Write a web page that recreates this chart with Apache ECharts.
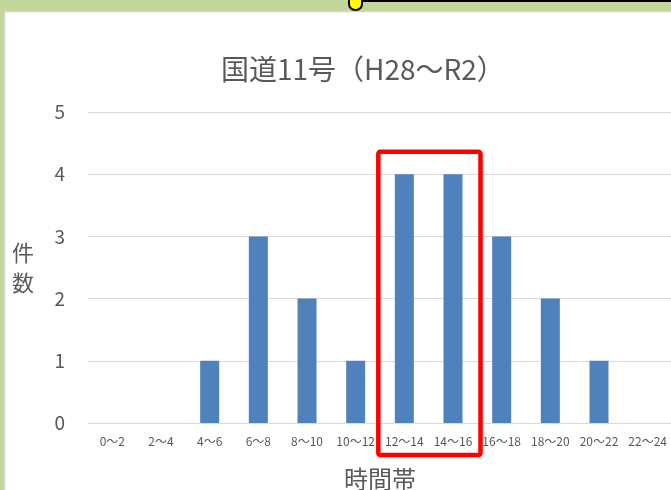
<!DOCTYPE html>
<html>
<head>
<meta charset="utf-8">
<script src="https://cdn.jsdelivr.net/npm/echarts@6/dist/echarts.min.js"></script>
<style>
  html, body { margin: 0; padding: 0; background: #c4d79b; }
  #chart { width: 671px; height: 490px; }
</style>
</head>
<body>
<div id="chart"></div>
<script>
// 時間帯別の件数
var categories = ['0〜2', '2〜4', '4〜6', '6〜8', '8〜10', '10〜12', '12〜14', '14〜16', '16〜18', '18〜20', '20〜22', '22〜24'];
var counts = [0, 0, 1, 3, 2, 1, 4, 4, 3, 2, 1, 0];
var yTicks = [0, 1, 2, 3, 4, 5];

var textColor = '#595959';
var cjk = '"Noto Sans CJK JP", "Noto Sans", sans-serif';

var myChart = echarts.init(document.getElementById('chart'));
var option = {
  animation: false,
  textStyle: { fontFamily: cjk },
  title: {
    text: '国道11号（H28〜R2）',
    left: 216,
    top: 50,
    textStyle: { fontSize: 28, fontWeight: 'normal', color: textColor, fontFamily: cjk }
  },
  grid: { left: 88, top: 112, width: 584, height: 311, outerBoundsMode: 'none' },
  xAxis: {
    type: 'category',
    data: categories,
    name: '時間帯',
    nameLocation: 'middle',
    nameGap: 44,
    nameTextStyle: { fontSize: 24, color: textColor },
    axisLine: { lineStyle: { color: '#d9d9d9' } },
    axisTick: { show: false },
    axisLabel: { interval: 0, fontSize: 12, color: textColor, margin: 12 }
  },
  yAxis: {
    type: 'value',
    min: yTicks[0],
    max: yTicks[yTicks.length - 1],
    interval: 1,
    name: '件\n数',
    nameLocation: 'middle',
    nameRotate: 0,
    nameGap: 54,
    nameTextStyle: { fontSize: 22, color: textColor, lineHeight: 30, padding: [10, 0, 0, 0] },
    axisLine: { show: false },
    axisTick: { show: false },
    axisLabel: { fontSize: 19, color: textColor, margin: 23 },
    splitLine: { lineStyle: { color: '#d9d9d9' } }
  },
  series: [
    {
      type: 'bar',
      data: counts,
      barWidth: 19,
      itemStyle: { color: '#4f81bd' }
    }
  ],
  graphic: [
    // 背景の枠
    {
      type: 'rect', z: -10, silent: true,
      shape: { x: 0, y: 0, width: 671, height: 490 },
      style: { fill: '#c4d79b' }
    },
    {
      type: 'rect', z: -9, silent: true,
      shape: { x: 4.5, y: 11.5, width: 680, height: 490 },
      style: { fill: '#ffffff', stroke: '#d4d4d4', lineWidth: 1.5 }
    },
    {
      type: 'rect', z: -8, silent: true,
      shape: { x: 362, y: -2, width: 320, height: 4 },
      style: { fill: '#000000' }
    },
    {
      type: 'rect', z: -7, silent: true,
      shape: { x: 349, y: -8, width: 13, height: 18, r: [0, 0, 6, 6] },
      style: { fill: '#ffff00', stroke: '#000000', lineWidth: 2 }
    },
    // 赤枠
    {
      type: 'rect', z: 100, silent: true,
      shape: { x: 378.3, y: 151.7, width: 102.2, height: 303.3, r: 2 },
      style: { fill: null, stroke: '#ff0000', lineWidth: 4.5 }
    }
  ]
};
myChart.setOption(option);
window.addEventListener('resize', function () {
  myChart.resize();
});
</script>
</body>
</html>
